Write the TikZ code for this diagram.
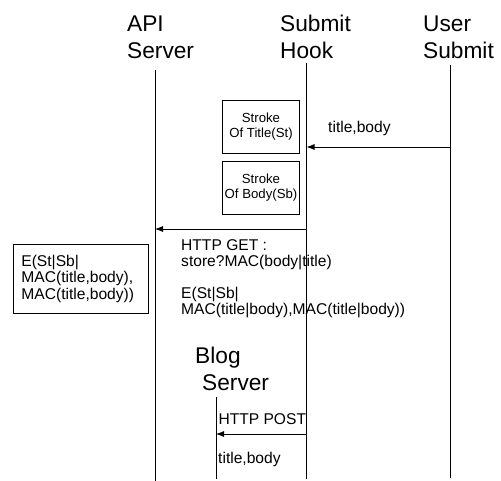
\documentclass[tikz,border=0pt]{standalone}
\usepackage{fontspec}
\setmainfont{Liberation Sans}
\usetikzlibrary{arrows.meta}
\begin{document}
\begin{tikzpicture}[x=1pt,y=-1pt,
  head/.style={anchor=north west, align=left, inner sep=0pt, font=\fontsize{22.7}{27}\selectfont},
  lbl/.style={anchor=north west, align=left, inner sep=0pt, font=\fontsize{15.6}{16}\selectfont},
  life/.style={draw=black, line width=0.8pt},
  smallbox/.style={draw=black, line width=0.8pt, minimum width=76.5pt, minimum height=53pt, inner sep=0pt, align=center, font=\fontsize{13.2}{15.5}\selectfont},
  msg/.style={draw=black, line width=0.8pt, -{Latex[length=8pt,width=6pt]}}]
\useasboundingbox (0,0) rectangle (501,481);
% headers
\node[head] (hapi) at (127,15.3) {API\\Server};
\node[head] (hhook) at (280,15.3) {Submit\\Hook};
\node[head] (huser) at (423,15.3) {User\\Submit};
\node[head] (hblog) at (195,347.3) {Blog\\\hspace*{7pt}Server};
% lifelines
\coordinate (apiT) at (155,70);
\coordinate (apiB) at (155,481);
\coordinate (hookT) at (306.5,63);
\coordinate (hookB) at (306.5,479);
\coordinate (userT) at (450.5,65);
\coordinate (userB) at (450.5,478);
\coordinate (blogT) at (216,397);
\coordinate (blogB) at (216,479);
\draw[life] (apiT) -- (apiB);
\draw[life] (hookT) -- (hookB);
\draw[life] (userT) -- (userB);
\draw[life] (blogT) -- (blogB);
% boxes
\node[smallbox] (st) at (261,126.5) {Stroke\\Of Title(St)};
\node[smallbox] (sb) at (261,187.5) {Stroke\\Of Body(Sb)};
\node[draw=black, line width=0.8pt, anchor=north west, text width=118.5pt, inner xsep=8.5pt, inner ysep=0pt, minimum height=69pt, align=left, font=\fontsize{15.6}{16.5}\selectfont] (ebox) at (12.5,244) {E(St|Sb|\\MAC(title,body),\\MAC(title,body))};
% messages
\coordinate (m1a) at (450.5,147);
\coordinate (m1b) at (306.5,147);
\coordinate (m2a) at (306.5,229);
\coordinate (m2b) at (155,229);
\coordinate (m3a) at (306.5,434);
\coordinate (m3b) at (216,434);
\draw[msg] (m1a) -- (m1b);
\draw[msg] (m2a) -- (m2b);
\draw[msg] (m3a) -- (m3b);
% labels
\node[lbl] (l1) at (328,120.5) {title,body};
\node[lbl] (l2) at (181,239) {HTTP GET :\\store?MAC(body|title)\\[16pt]E(St|Sb|\\MAC(title|body),MAC(title|body))};
\node[lbl] (l3) at (218.3,413.3) {HTTP POST};
\node[lbl] (l4) at (218,451.5) {title,body};
\end{tikzpicture}
\end{document}
